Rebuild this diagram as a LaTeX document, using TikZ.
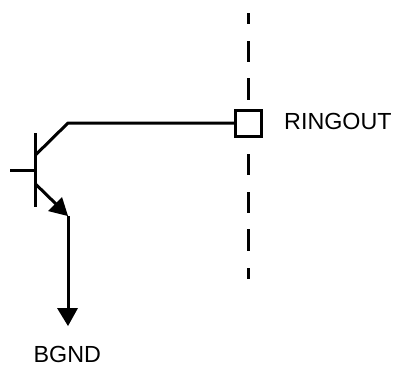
\documentclass[tikz,border=0pt]{standalone}
\usepackage{fontspec}
\setmainfont{Liberation Sans}
\begin{document}
\begin{tikzpicture}[x=1pt,y=-1pt,
  wire/.style={line width=3pt,black},
  dashseg/.style={line width=3pt,black},
  pad/.style={draw=black,line width=3pt,fill=white,minimum size=26pt,inner sep=0pt,outer sep=0pt},
  lbl/.style={font=\fontsize{23.3pt}{26pt}\selectfont,inner sep=0pt,anchor=base west}]
\useasboundingbox (0,0) rectangle (396,364);
% pad cut line
\foreach \a/\b in {13/24,41/62,78/100,154/175,192/213,229/251,268/279}
  \draw[dashseg] (248.7,\a) -- (248.7,\b);
\node[pad] (ringpad) at (248.5,123) {};
\node[lbl] (ringout) at (284,129.5) {RINGOUT};
\node[lbl] (bgnd) at (33.5,362) {BGND};
% transistor
\coordinate (bartop) at (35.5,133);
\coordinate (barbot) at (35.5,207);
\coordinate (basein) at (10,170);
\coordinate (basebar) at (35.5,170);
\coordinate (colbar) at (35.5,155);
\coordinate (colknee) at (68,123);
\coordinate (emibar) at (35.5,184);
\coordinate (emitip) at (68,216);
\coordinate (gndtip) at (68,326);
\draw[wire] (bartop) -- (barbot);
\draw[wire] (basein) -- (basebar);
\draw[wire,line join=round] (colbar) -- (colknee) -- (ringpad.west);
\draw[wire] (emibar) -- (56,204);
\fill (emitip) -- (62,197) -- (48,211) -- cycle;
\draw[wire] (emitip) -- (68,310);
\fill (gndtip) -- (57,308) -- (78,308) -- cycle;
\end{tikzpicture}
\end{document}
